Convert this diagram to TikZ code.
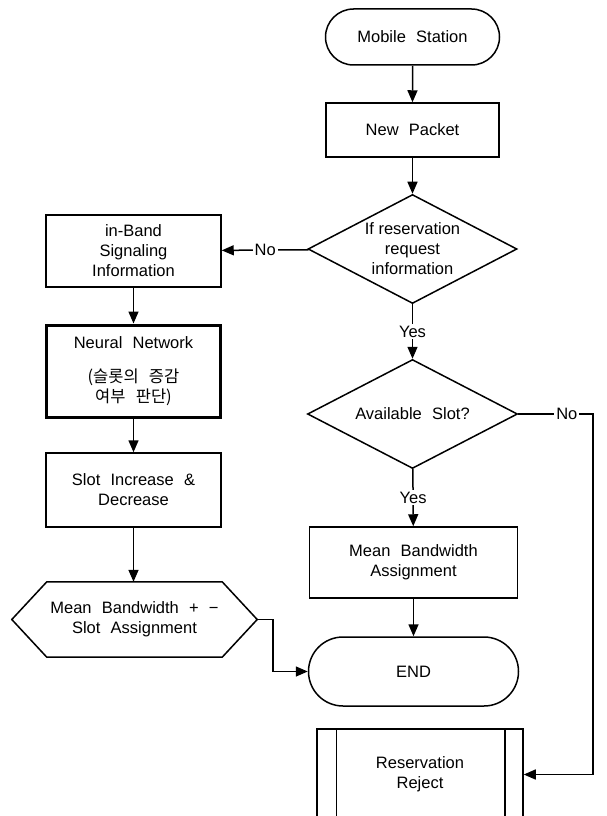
\documentclass[tikz,border=0pt]{standalone}
\usepackage{fontspec}
\setmainfont{Liberation Sans}
\newfontfamily\krfont{Noto Sans CJK KR}
\usetikzlibrary{shapes.geometric,shapes.misc,arrows.meta,calc}
\newcommand{\widesp}{\spaceskip=0.62em\relax}
\newcommand{\normsp}{\spaceskip=0pt\relax}
\begin{document}
\begin{tikzpicture}[x=1pt,y=-1pt,
  every node/.style={font=\fontsize{16.5}{20}\selectfont, align=center, inner sep=0pt, execute at begin node=\widesp},
  base/.style={draw, line width=1.5pt},
  box/.style={base, rectangle},
  term/.style={base, rounded rectangle},
  dec/.style={base, diamond, aspect=1.92},
  arr/.style={line width=1.5pt, -{Triangle[length=12pt,width=10pt]}},
  lab/.style={fill=white, inner sep=2pt}
]
\useasboundingbox (0,0) rectangle (607,816);
% right column
\node[term, minimum width=174, minimum height=56] (ms) at (412.5,37) {Mobile Station};
\node[box, minimum width=173, minimum height=54] (np) at (412.5,130) {New Packet};
\node[dec, minimum width=209, minimum height=109, execute at begin node=\normsp] (d1) at (412.5,249) {If reservation\\request\\information};
\node[dec, minimum width=210, minimum height=109] (d2) at (412.5,414) {Available Slot?};
\node[box, minimum width=208, minimum height=71] (mba) at (413.5,562.5) {Mean Bandwidth\\Assignment};
\node[term, minimum width=210, minimum height=69] (end) at (413.5,671.5) {END};
\node[box, minimum width=206, minimum height=91] (rr) at (420,774.5) {Reservation\\Reject};
\draw[base] ($(rr.north west)+(20,0)$) -- ($(rr.south west)+(20,0)$);
\draw[base] ($(rr.north east)+(-19,0)$) -- ($(rr.south east)+(-19,0)$);
% left column
\node[box, minimum width=175, minimum height=72] (ib) at (133.5,251) {in-Band\\Signaling\\Information};
\node[box, line width=3pt, minimum width=174, minimum height=92] (nn) at (133.5,371) {Neural Network\\[14pt]{\krfont (슬롯의 증감}\\{\krfont 여부 판단)}};
\node[box, minimum width=175, minimum height=74] (si) at (133.5,490) {Slot Increase \&\\Decrease};
\node[minimum width=175, minimum height=75] (hx) at (134.5,619.5) {Mean Bandwidth + −\\Slot Assignment};
\draw[base] (hx.north west) -- (hx.north east) -- ($(hx.east)+(35,0)$) coordinate (hxR) -- (hx.south east) -- (hx.south west) -- ($(hx.west)+(-35,0)$) -- cycle;
% connectors
\coordinate (c1) at (593,414);
\coordinate (c2) at (593,774.5);
\coordinate (c3) at (273,619.5);
\draw[arr] (ms) -- (np);
\draw[arr] (np) -- (d1);
\draw[arr] (d1) -- node[lab]{Yes} (d2);
\draw[arr] (d2) -- node[lab]{Yes} (mba);
\draw[arr] (mba) -- (end);
\draw[arr] (d1) -- node[lab]{No} (ib);
\draw[arr] (d2.east) -- node[lab,pos=0.65]{No} (c1) -- (c2) -- (rr.east);
\draw[arr] (ib) -- (nn);
\draw[arr] (nn) -- (si);
\draw[arr] (si) -- (si |- hx.north);
\draw[arr] (hxR) -- (c3) |- (end.west);
\end{tikzpicture}
\end{document}
